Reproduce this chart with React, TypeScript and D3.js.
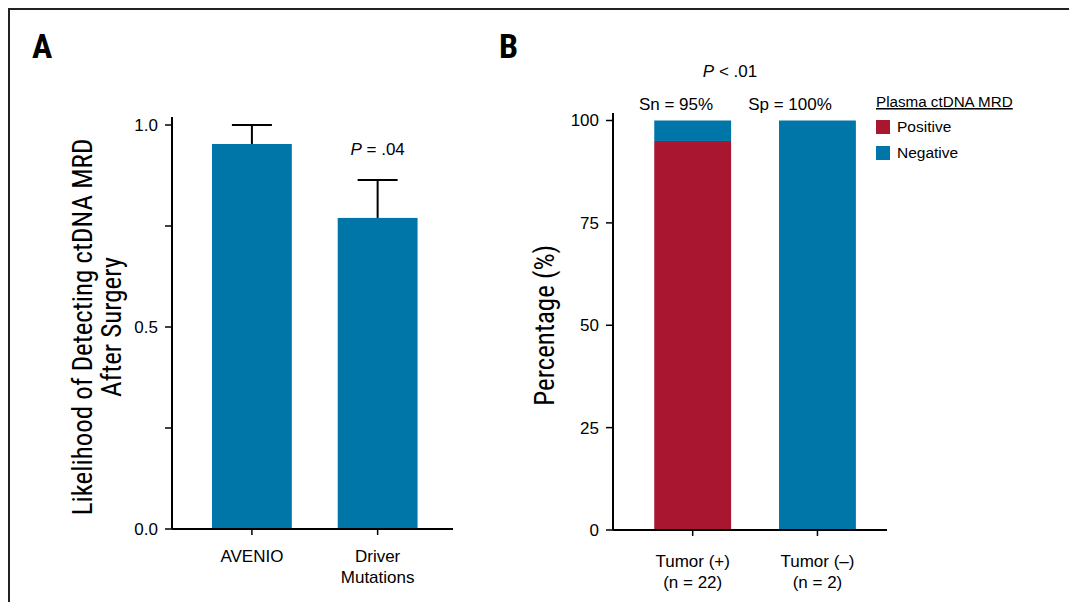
import * as d3 from "d3";
import React from "react";

// panel A
const aCategories = ["AVENIO", "Driver Mutations"];
const aValues = [0.953, 0.77];
const aUpper = [1.0, 0.864];
const aTicks = [0, 0.25, 0.5, 0.75, 1];
const aTickLabels = ["0.0", "", "0.5", "", "1.0"];

// panel B
const bCategories = ["Tumor (+)", "Tumor (–)"];
const bCounts = ["(n = 22)", "(n = 2)"];
const bPositive = [95, 0];
const bNegative = [5, 100];
const bTicks = [0, 25, 50, 75, 100];
const bSeries = ["Positive", "Negative"];

const BLUE = "#0076a8";
const RED = "#a8172f";
const SANS = "'Liberation Sans', Arial, Helvetica, sans-serif";
const NARROW = "'Liberation Sans Narrow', 'Arial Narrow', 'Roboto Condensed', sans-serif";

export default function App() {
  // scales for A
  const ax = d3
    .scaleBand()
    .domain(aCategories)
    .range([172, 453])
    .paddingInner(0.365)
    .paddingOuter(0.3)
    .align(0.53);
  const ay = d3.scaleLinear().domain([0, 1]).range([529, 125]);

  // scales for B
  const bx = d3
    .scaleBand()
    .domain(bCategories)
    .range([613, 887])
    .paddingInner(0.384)
    .paddingOuter(0.29)
    .align(0.57);
  const by = d3.scaleLinear().domain([0, 100]).range([530, 120.5]);
  const color = d3.scaleOrdinal<string, string>().domain(bSeries).range([RED, BLUE]);

  const stacked = d3
    .stack<any>()
    .keys(bSeries)(bCategories.map((c, i) => ({ cat: c, Positive: bPositive[i], Negative: bNegative[i] })));

  return (
    <svg width={1069} height={602} style={{ position: "absolute", left: 0, top: 0, background: "#fff" }}>
      {/* frame */}
      <path d="M9,602 V9 H1069" fill="none" stroke="#222" strokeWidth={2} />

      {/* ---------- Panel A ---------- */}
      <text x={32} y={58} fontFamily={NARROW} fontWeight="bold" fontSize={34}>A</text>

      {/* y axis */}
      <line x1={172} x2={172} y1={117} y2={ay(0)} stroke="#000" strokeWidth={2} />
      {aTicks.map((t, i) => (
        <g key={"at" + i}>
          <line x1={165} x2={172} y1={ay(t)} y2={ay(t)} stroke="#000" strokeWidth={1.5} />
          <text x={158} y={ay(t)} dy="0.35em" textAnchor="end" fontFamily={SANS} fontSize={17}>
            {aTickLabels[i]}
          </text>
        </g>
      ))}
      <text
        transform={`translate(83,${ay(0.5)}) rotate(-90)`}
        textAnchor="middle"
        dy="0.35em"
        fontFamily={NARROW}
        fontSize={27}
      >
        Likelihood of Detecting ctDNA MRD
      </text>
      <text
        transform={`translate(112,${ay(0.5)}) rotate(-90)`}
        textAnchor="middle"
        dy="0.35em"
        fontFamily={NARROW}
        fontSize={27}
      >
        After Surgery
      </text>

      {/* bars */}
      {aCategories.map((c, i) => {
        const x0 = ax(c)!;
        const w = ax.bandwidth();
        const cx = x0 + w / 2;
        return (
          <g key={c}>
            <rect x={x0} y={ay(aValues[i])} width={w} height={ay(0) - ay(aValues[i])} fill={BLUE} />
            <line x1={cx} x2={cx} y1={ay(aValues[i])} y2={ay(aUpper[i])} stroke="#000" strokeWidth={2} />
            <line x1={cx - 20} x2={cx + 20} y1={ay(aUpper[i])} y2={ay(aUpper[i])} stroke="#000" strokeWidth={2} />
          </g>
        );
      })}

      {/* x axis */}
      <line x1={172} x2={453} y1={ay(0)} y2={ay(0)} stroke="#000" strokeWidth={2} />
      {aCategories.map((c) => {
        const cx = ax(c)! + ax.bandwidth() / 2;
        const words = c === "AVENIO" ? ["AVENIO"] : ["Driver", "Mutations"];
        return (
          <g key={"ax" + c}>
            <line x1={cx} x2={cx} y1={ay(0)} y2={ay(0) + 6} stroke="#000" strokeWidth={1.5} />
            {words.map((w, j) => (
              <text key={w} x={cx} y={562 + j * 21} textAnchor="middle" fontFamily={SANS} fontSize={17}>
                {w}
              </text>
            ))}
          </g>
        );
      })}

      <text x={ax("Driver Mutations")! + ax.bandwidth() / 2} y={155} textAnchor="middle" fontFamily={SANS} fontSize={17}>
        <tspan fontStyle="italic">P</tspan> = .04
      </text>

      {/* ---------- Panel B ---------- */}
      <text x={499} y={58} fontFamily={NARROW} fontWeight="bold" fontSize={34}>B</text>

      <line x1={613} x2={613} y1={113} y2={by(0)} stroke="#000" strokeWidth={2} />
      {bTicks.map((t) => (
        <g key={"bt" + t}>
          <line x1={606} x2={613} y1={by(t)} y2={by(t)} stroke="#000" strokeWidth={1.5} />
          <text x={599} y={by(t)} dy="0.35em" textAnchor="end" fontFamily={SANS} fontSize={17}>
            {t}
          </text>
        </g>
      ))}
      <text
        transform={`translate(545,${by(50)}) rotate(-90)`}
        textAnchor="middle"
        dy="0.35em"
        fontFamily={NARROW}
        fontSize={27}
      >
        Percentage (%)
      </text>

      {stacked.map((s) => (
        <g key={s.key} fill={color(s.key)}>
          {s.map((d, i) => (
            <rect
              key={i}
              x={bx(bCategories[i])}
              y={by(d[1])}
              width={bx.bandwidth()}
              height={by(d[0]) - by(d[1])}
            />
          ))}
        </g>
      ))}

      <line x1={613} x2={887} y1={by(0)} y2={by(0)} stroke="#000" strokeWidth={2} />
      {bCategories.map((c, i) => {
        const cx = bx(c)! + bx.bandwidth() / 2;
        return (
          <g key={"bx" + c}>
            <line x1={cx} x2={cx} y1={by(0)} y2={by(0) + 6} stroke="#000" strokeWidth={1.5} />
            <text x={cx} y={567} textAnchor="middle" fontFamily={SANS} fontSize={17}>{c}</text>
            <text x={cx} y={588} textAnchor="middle" fontFamily={SANS} fontSize={17}>{bCounts[i]}</text>
          </g>
        );
      })}

      <text x={730} y={77} textAnchor="middle" fontFamily={SANS} fontSize={17}>
        <tspan fontStyle="italic">P</tspan> &lt; .01
      </text>
      <text x={676} y={110} textAnchor="middle" fontFamily={SANS} fontSize={17}>Sn = 95%</text>
      <text x={790} y={110} textAnchor="middle" fontFamily={SANS} fontSize={17}>Sp = 100%</text>

      {/* legend */}
      <text x={876} y={107} fontFamily={SANS} fontSize={15.2} textDecoration="underline">
        Plasma ctDNA MRD
      </text>
      {bSeries.map((s, i) => (
        <g key={"lg" + s}>
          <rect x={876} y={120 + i * 26} width={14} height={14} fill={color(s)} />
          <text x={897} y={127 + i * 26} dy="0.35em" fontFamily={SANS} fontSize={15.5}>{s}</text>
        </g>
      ))}
    </svg>
  );
}
